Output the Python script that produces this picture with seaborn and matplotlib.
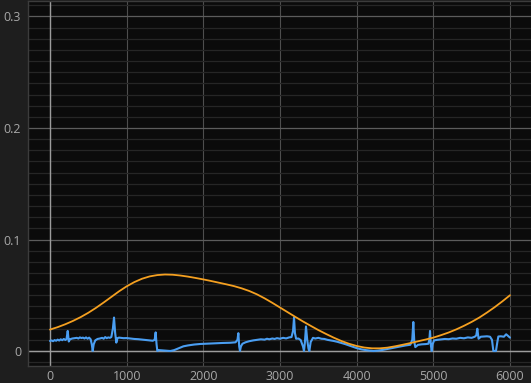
import matplotlib
matplotlib.use("Agg")
import matplotlib.pyplot as plt
import seaborn as sns
import pandas as pd
from matplotlib.ticker import MultipleLocator, FixedLocator

# ---- data ----
orange_x = [0, 100, 200, 300, 400, 500, 600, 700, 800, 900, 1000, 1100, 1200, 1300, 1400,
            1500, 1600, 1700, 1800, 1900, 2000, 2100, 2200, 2300, 2400, 2500, 2600, 2700,
            2800, 2900, 3000, 3100, 3200, 3300, 3400, 3500, 3600, 3700, 3800, 3900, 4000,
            4100, 4200, 4300, 4400, 4500, 4600, 4700, 4800, 4900, 5000, 5100, 5200, 5300,
            5400, 5500, 5600, 5700, 5800, 5900, 6000]
orange_y = [0.0192, 0.0214, 0.0240, 0.0270, 0.0304, 0.0343, 0.0387, 0.0435, 0.0485, 0.0535,
            0.0580, 0.0618, 0.0648, 0.0669, 0.0681, 0.0686, 0.0684, 0.0677, 0.0667, 0.0655,
            0.0642, 0.0628, 0.0613, 0.0598, 0.0582, 0.0562, 0.0538, 0.0508, 0.0472, 0.0432,
            0.0390, 0.0348, 0.0306, 0.0265, 0.0226, 0.0188, 0.0153, 0.0120, 0.0090, 0.0065,
            0.0045, 0.0031, 0.0024, 0.0024, 0.0030, 0.0042, 0.0056, 0.0071, 0.0087, 0.0103,
            0.0120, 0.0142, 0.0166, 0.0194, 0.0226, 0.0261, 0.0300, 0.0345, 0.0393, 0.0445,
            0.0500]

blue_x = [0, 20, 40, 60, 80, 100, 120, 140, 160, 180, 200, 215, 231, 245, 260, 290, 320, 350,
          370, 390, 410, 430, 450, 470, 490, 510, 530, 545, 557, 570, 590, 620, 650, 680, 700,
          720, 740, 760, 780, 800, 820, 835, 850, 865, 880, 900, 930, 960, 1000, 1050, 1100,
          1150, 1200, 1250, 1300, 1340, 1365, 1378, 1390, 1400, 1420, 1460, 1500, 1540, 1570,
          1620, 1680, 1740, 1800, 1880, 1960, 2050, 2150, 2250, 2350, 2420, 2445, 2457, 2468,
          2478, 2490, 2510, 2550, 2600, 2650, 2700, 2750, 2800, 2830, 2860, 2900, 2930, 2960,
          3000, 3040, 3080, 3120, 3150, 3170, 3183, 3195, 3210, 3240, 3270, 3300, 3313, 3325,
          3339, 3355, 3372, 3383, 3400, 3430, 3460, 3500, 3540, 3580, 3620, 3660, 3700, 3750,
          3800, 3850, 3900, 3950, 4000, 4060, 4120, 4180, 4220, 4280, 4340, 4400, 4460, 4520,
          4580, 4640, 4700, 4725, 4739, 4752, 4765, 4800, 4850, 4900, 4935, 4948, 4957, 4968,
          4979, 4990, 5010, 5050, 5100, 5150, 5200, 5250, 5300, 5350, 5400, 5450, 5500, 5540,
          5560, 5574, 5590, 5620, 5660, 5700, 5740, 5765, 5783, 5817, 5835, 5848, 5880, 5920,
          5950, 5975, 6000]
blue_y = [0.0090, 0.0095, 0.0088, 0.0098, 0.0092, 0.0102, 0.0094, 0.0105, 0.0097, 0.0108,
          0.0099, 0.0106, 0.0180, 0.0085, 0.0105, 0.0112, 0.0115, 0.0118, 0.0112, 0.0122,
          0.0116, 0.0120, 0.0112, 0.0122, 0.0110, 0.0120, 0.0105, 0.0060, 0.0000, 0.0060,
          0.0095, 0.0108, 0.0112, 0.0118, 0.0110, 0.0125, 0.0115, 0.0122, 0.0118, 0.0125,
          0.0200, 0.0300, 0.0160, 0.0075, 0.0115, 0.0120, 0.0118, 0.0115, 0.0116, 0.0112,
          0.0108, 0.0106, 0.0102, 0.0098, 0.0095, 0.0092, 0.0100, 0.0167, 0.0060, 0.0000,
          0.0008, 0.0006, 0.0004, 0.0002, 0.0000, 0.0008, 0.0025, 0.0042, 0.0050, 0.0058,
          0.0063, 0.0066, 0.0070, 0.0072, 0.0074, 0.0078, 0.0100, 0.0160, 0.0040, 0.0000,
          0.0040, 0.0065, 0.0078, 0.0088, 0.0095, 0.0100, 0.0105, 0.0102, 0.0110, 0.0105,
          0.0112, 0.0108, 0.0115, 0.0110, 0.0118, 0.0113, 0.0122, 0.0125, 0.0180, 0.0300,
          0.0160, 0.0110, 0.0112, 0.0098, 0.0040, 0.0000, 0.0080, 0.0220, 0.0100, 0.0020,
          0.0000, 0.0080, 0.0118, 0.0112, 0.0118, 0.0110, 0.0108, 0.0100, 0.0095, 0.0090,
          0.0082, 0.0072, 0.0062, 0.0050, 0.0038, 0.0026, 0.0015, 0.0008, 0.0003, 0.0000,
          0.0004, 0.0010, 0.0018, 0.0026, 0.0035, 0.0042, 0.0050, 0.0056, 0.0100, 0.0260,
          0.0080, 0.0035, 0.0055, 0.0060, 0.0062, 0.0065, 0.0100, 0.0180, 0.0050, 0.0000,
          0.0060, 0.0095, 0.0100, 0.0104, 0.0108, 0.0106, 0.0112, 0.0110, 0.0118, 0.0114,
          0.0122, 0.0118, 0.0128, 0.0140, 0.0200, 0.0110, 0.0128, 0.0130, 0.0132, 0.0128,
          0.0100, 0.0000, 0.0000, 0.0080, 0.0130, 0.0132, 0.0128, 0.0150, 0.0135, 0.0120]

x_ticks = [0, 1000, 2000, 3000, 4000, 5000, 6000]
x_tick_labels = ["0", "1000", "2000", "3000", "4000", "5000", "6000"]
y_ticks = [0, 0.1, 0.2, 0.3]
y_tick_labels = ["0", "0.1", "0.2", "0.3"]

# ---- style ----
sns.set_theme(style="dark")
plt.rcParams["font.family"] = ["Open Sans", "DejaVu Sans"]

fig = plt.figure(figsize=(5.31, 3.83), dpi=100, facecolor="#1e1e1e")
ax = fig.add_axes([28 / 531, 17 / 383, 503 / 531, 365 / 383])
ax.set_facecolor("#0b0b0b")

df_o = pd.DataFrame({"x": orange_x, "y": orange_y})
df_b = pd.DataFrame({"x": blue_x, "y": blue_y})

# grid
ax.set_xlim(-287, 6274)
ax.set_ylim(-0.01345, 0.3139)
ax.yaxis.set_minor_locator(MultipleLocator(0.01))
ax.xaxis.set_major_locator(FixedLocator(x_ticks))
ax.yaxis.set_major_locator(FixedLocator(y_ticks))
ax.set_xticklabels(x_tick_labels)
ax.set_yticklabels(y_tick_labels)
ax.grid(which="minor", axis="y", color="#262626", linewidth=0.9)
ax.grid(which="major", axis="y", color="#5c5c5c", linewidth=0.9)
ax.grid(which="major", axis="x", color="#4e4e4e", linewidth=0.8)
ax.set_axisbelow(True)
ax.axhline(0, color="#9c9c9c", linewidth=1.0, zorder=1)
ax.axvline(0, color="#9c9c9c", linewidth=1.0, zorder=1)

sns.lineplot(data=df_b, x="x", y="y", ax=ax, color="#4a9ef2", linewidth=1.5, zorder=3)
sns.lineplot(data=df_o, x="x", y="y", ax=ax, color="#f5a020", linewidth=1.3, zorder=4)

ax.set_xlabel("")
ax.set_ylabel("")
ax.tick_params(axis="both", which="both", length=0, colors="#a8a8a8", labelsize=9)
ax.tick_params(axis="y", pad=5)
ax.tick_params(axis="x", pad=3)
for s in ["left", "bottom", "top"]:
    ax.spines[s].set_visible(True)
    ax.spines[s].set_color("#3c3c3c")
    ax.spines[s].set_linewidth(1.0)
ax.spines["right"].set_visible(False)

fig.savefig("out.png", dpi=100, facecolor=fig.get_facecolor())
